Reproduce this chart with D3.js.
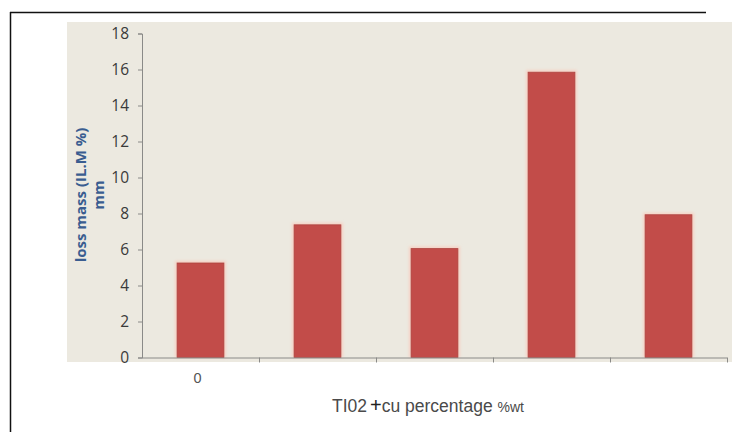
<!DOCTYPE html>
<html>
<head>
<meta charset="utf-8">
<script src="https://cdn.jsdelivr.net/npm/d3@7"></script>
<style>
  html, body { margin: 0; padding: 0; background: #ffffff; }
  svg { display: block; }
</style>
</head>
<body>
<svg id="chart" width="732" height="432"></svg>
<script>
// Loss mass per TiO2 + Cu composition
const categories = ["s1", "s2", "s3", "s4", "s5"];
const tickLabels = ["0", "", "", "", ""];
const lossMass = [5.25, 7.37, 6.05, 15.85, 7.93];
const yTicks = [0, 2, 4, 6, 8, 10, 12, 14, 16, 18];

const svg = d3.select("#chart");

// page frame (top and left rules)
svg.append("line").attr("x1", 10).attr("x2", 706).attr("y1", 12.5).attr("y2", 12.5)
  .attr("stroke", "#111").attr("stroke-width", 1.5);
svg.append("line").attr("x1", 10.5).attr("x2", 10.5).attr("y1", 12).attr("y2", 432)
  .attr("stroke", "#111").attr("stroke-width", 1.5);

// chart background panel
svg.append("rect").attr("x", 67).attr("y", 22).attr("width", 665).attr("height", 340)
  .attr("fill", "#ece9e0");

const x = d3.scaleBand().domain(categories).range([142, 727])
  .paddingInner(0.6).paddingOuter(0.3);
const y = d3.scaleLinear().domain([0, 18]).range([357.5, 33.5]);

const defs = svg.append("defs");
defs.append("filter").attr("id", "glow").attr("x", "-30%").attr("y", "-30%")
  .attr("width", "160%").attr("height", "160%")
  .append("feGaussianBlur").attr("stdDeviation", 1.6);

// soft halo behind bars
svg.append("g").selectAll("rect").data(lossMass).join("rect")
  .attr("x", (d, i) => x(categories[i]) - 2)
  .attr("y", d => y(d) - 2)
  .attr("width", x.bandwidth() + 4)
  .attr("height", d => y(0) - y(d) + 2)
  .attr("fill", "#f7cfc2")
  .attr("filter", "url(#glow)");

// bars
svg.append("g").selectAll("rect").data(lossMass).join("rect")
  .attr("x", (d, i) => x(categories[i]))
  .attr("y", d => y(d))
  .attr("width", x.bandwidth())
  .attr("height", d => y(0) - y(d))
  .attr("fill", "#c24c49")
  .attr("stroke", "#ad4440")
  .attr("stroke-width", 0.8);

// y axis
const yAxis = svg.append("g").attr("transform", `translate(${x.range()[0]},0)`)
  .call(d3.axisLeft(y).tickValues(yTicks).tickSize(4).tickPadding(9));
yAxis.select(".domain").attr("stroke", "#8a8a88");
yAxis.selectAll(".tick line").attr("stroke", "#8a8a88");
yAxis.selectAll(".tick text")
  .attr("font-family", "'Open Sans', 'Liberation Sans', sans-serif")
  .attr("font-size", 15.5).attr("fill", "#3a3a3a");

// x axis with ticks at category boundaries
const xAxisG = svg.append("g");
xAxisG.append("line")
  .attr("x1", x.range()[0]).attr("x2", x.range()[1])
  .attr("y1", y(0) + 0.5).attr("y2", y(0) + 0.5)
  .attr("stroke", "#8a8a88");
const boundaries = categories.slice(1).map(c => x(c) - x.step() * x.paddingInner() / 2)
  .concat([x.range()[1]]);
xAxisG.selectAll("line.tk").data(boundaries).join("line").attr("class", "tk")
  .attr("x1", d => d + 0.5).attr("x2", d => d + 0.5)
  .attr("y1", y(0)).attr("y2", y(0) + 5)
  .attr("stroke", "#8a8a88");
xAxisG.selectAll("text").data(tickLabels).join("text")
  .attr("x", (d, i) => x(categories[i]) + x.bandwidth() / 2 - 3)
  .attr("y", 383)
  .attr("text-anchor", "middle")
  .attr("font-family", "'Liberation Sans', Arial, sans-serif")
  .attr("font-size", 14.5).attr("fill", "#555")
  .text(d => d);

// y axis title (two lines, rotated)
const yTitle = svg.append("text")
  .attr("transform", "translate(0,195) rotate(-90)")
  .attr("text-anchor", "middle")
  .attr("font-family", "'Open Sans', 'Liberation Sans', sans-serif")
  .attr("font-weight", "bold").attr("font-size", 15)
  .attr("fill", "#3a5d90");
yTitle.append("tspan").attr("x", 0).attr("y", 86).text("loss mass (IL.M %)");
yTitle.append("tspan").attr("x", 0).attr("y", 104).text("mm");

// x axis title
const xTitle = svg.append("text")
  .attr("x", 332).attr("y", 412)
  .attr("font-family", "'Liberation Sans', Arial, sans-serif")
  .attr("font-size", 17.5).attr("fill", "#4a4a4a");
xTitle.append("tspan").text("TI02");
xTitle.append("tspan").attr("dx", 3).attr("fill", "#222").attr("font-size", 20).text("+");
xTitle.append("tspan").text("cu percentage ");
xTitle.append("tspan").attr("font-size", 14).text("%wt");
</script>
</body>
</html>
